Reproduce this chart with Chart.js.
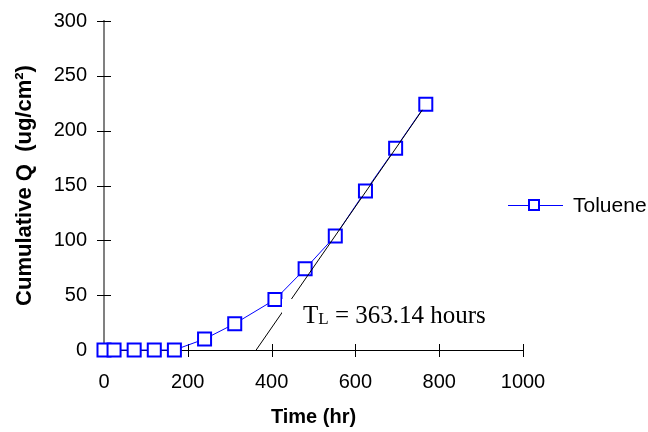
<!DOCTYPE html>
<html>
<head>
<meta charset="utf-8">
<title>Toluene permeation</title>
<script src="https://cdn.jsdelivr.net/npm/chart.js@4.4.0/dist/chart.umd.min.js"></script>
<style>
  html, body { margin: 0; padding: 0; background: #fff; }
  canvas { display: block; }
</style>
</head>
<body>
<canvas id="lagChart" width="648" height="432"></canvas>
<script>
// sampling times (hr) and cumulative amount permeated (ug/cm2)
const timeHr = [0, 24, 72, 120, 168, 240, 312, 408, 480, 552, 624, 696, 768];
const cumulativeQ = [0, 0, 0, 0, 0, 10, 24, 46, 74, 104, 145, 184, 224];

// steady-state line, extrapolated back to the time axis
const fitTime = [363.14, 760];
const fitQ = [0, 219];
const lagTime = "363.14";

const xTicks = [0, 200, 400, 600, 800, 1000];
const yTicks = [0, 50, 100, 150, 200, 250, 300];

const seriesName = "Toluene";
const BLUE = "#0000ff";

const toPoints = (xs, ys) => xs.map((x, i) => ({ x: x, y: ys[i] }));

// small ticks that cross both axes
const crossTicks = {
  id: "crossTicks",
  beforeDatasetsDraw(chart) {
    const { ctx, scales: { x, y } } = chart;
    const x0 = x.getPixelForValue(0);
    const y0 = y.getPixelForValue(0);
    ctx.save();
    ctx.strokeStyle = "#000";
    ctx.lineWidth = 1;
    ctx.beginPath();
    yTicks.forEach((v) => {
      const py = Math.round(y.getPixelForValue(v)) + 0.5;
      ctx.moveTo(x0 - 7, py);
      ctx.lineTo(x0 + 7, py);
    });
    xTicks.forEach((v) => {
      if (v === 0) return;
      const px = Math.round(x.getPixelForValue(v)) + 0.5;
      ctx.moveTo(px, y0 - 6);
      ctx.lineTo(px, y0 + 7);
    });
    ctx.stroke();
    ctx.restore();
  },
};

// lag time note, on a white box over the fitted line
const lagNote = {
  id: "lagNote",
  afterDatasetsDraw(chart) {
    const ctx = chart.ctx;
    ctx.save();
    ctx.fillStyle = "#fff";
    ctx.fillRect(282, 299, 215, 32);
    ctx.fillStyle = "#000";
    ctx.textBaseline = "alphabetic";
    ctx.font = '25px "Liberation Serif", "Times New Roman", serif';
    let tx = 303;
    ctx.fillText("T", tx, 323);
    tx += ctx.measureText("T").width;
    ctx.font = '17px "Liberation Serif", "Times New Roman", serif';
    ctx.fillText("L", tx, 324);
    tx += ctx.measureText("L").width;
    ctx.font = '25px "Liberation Serif", "Times New Roman", serif';
    ctx.fillText(" = " + lagTime + " hours", tx, 323);
    ctx.restore();
  },
};

// legend entry to the right of the plot
const sideLegend = {
  id: "sideLegend",
  afterDraw(chart) {
    const ctx = chart.ctx;
    const ly = 205;
    ctx.save();
    ctx.strokeStyle = BLUE;
    ctx.lineWidth = 1;
    ctx.beginPath();
    ctx.moveTo(508, ly + 0.5);
    ctx.lineTo(563, ly + 0.5);
    ctx.stroke();
    ctx.lineWidth = 2;
    ctx.fillStyle = "#fff";
    ctx.fillRect(529, ly - 5, 10, 10);
    ctx.strokeRect(529, ly - 5, 10, 10);
    ctx.fillStyle = "#000";
    ctx.font = '21px "Liberation Sans", Arial, sans-serif';
    ctx.textBaseline = "middle";
    ctx.fillText(chart.data.datasets[0].label, 573, ly + 1);
    ctx.restore();
  },
};

const tickFont = { family: '"Liberation Sans", Arial, sans-serif', size: 20 };

new Chart(document.getElementById("lagChart"), {
  type: "line",
  data: {
    datasets: [
      {
        label: seriesName,
        data: toPoints(timeHr, cumulativeQ),
        borderColor: BLUE,
        borderWidth: 1,
        pointStyle: "rect",
        pointRadius: 9.2,
        pointBorderWidth: 2,
        pointBorderColor: BLUE,
        pointBackgroundColor: "#fff",
        tension: 0,
        clip: false,
        order: 1,
      },
      {
        label: "fit",
        data: toPoints(fitTime, fitQ),
        borderColor: "#000",
        borderWidth: 1,
        pointRadius: 0,
        tension: 0,
        clip: false,
        order: 0,
      },
    ],
  },
  options: {
    responsive: false,
    animation: false,
    devicePixelRatio: 1,
    layout: { padding: { left: 0, right: 125, top: 21, bottom: 0 } },
    plugins: {
      legend: { display: false },
      tooltip: { enabled: false },
    },
    scales: {
      x: {
        type: "linear",
        min: 0,
        max: 1000,
        afterBuildTicks: (scale) => {
          scale.ticks = xTicks.map((v) => ({ value: v }));
        },
        afterFit: (scale) => {
          scale.height = 82;
        },
        grid: { display: false, drawTicks: false },
        border: { display: true, color: "#000", width: 1 },
        ticks: {
          color: "#000",
          font: tickFont,
          padding: 20,
          maxRotation: 0,
          callback: (v) => String(v),
        },
        title: {
          display: true,
          text: "Time (hr)",
          color: "#000",
          font: { family: '"Liberation Sans", Arial, sans-serif', size: 20, weight: "bold" },
          padding: { top: 0, bottom: 3 },
        },
      },
      y: {
        type: "linear",
        min: 0,
        max: 300,
        afterBuildTicks: (scale) => {
          scale.ticks = yTicks.map((v) => ({ value: v }));
        },
        afterFit: (scale) => {
          scale.width = 104;
          // let the layout padding alone decide where the plot starts
          scale.paddingTop = 0;
          scale.paddingBottom = 0;
        },
        grid: { display: false, drawTicks: false },
        border: { display: true, color: "#808080", width: 2 },
        ticks: { color: "#000", font: tickFont, padding: 17, callback: (v) => String(v) },
        title: {
          display: true,
          text: "Cumulative Q  (ug/cm²)",
          color: "#000",
          font: { family: '"Liberation Sans", Arial, sans-serif', size: 22, weight: "bold" },
          padding: { top: 12, bottom: 0 },
        },
      },
    },
  },
  plugins: [crossTicks, lagNote, sideLegend],
});
</script>
</body>
</html>
